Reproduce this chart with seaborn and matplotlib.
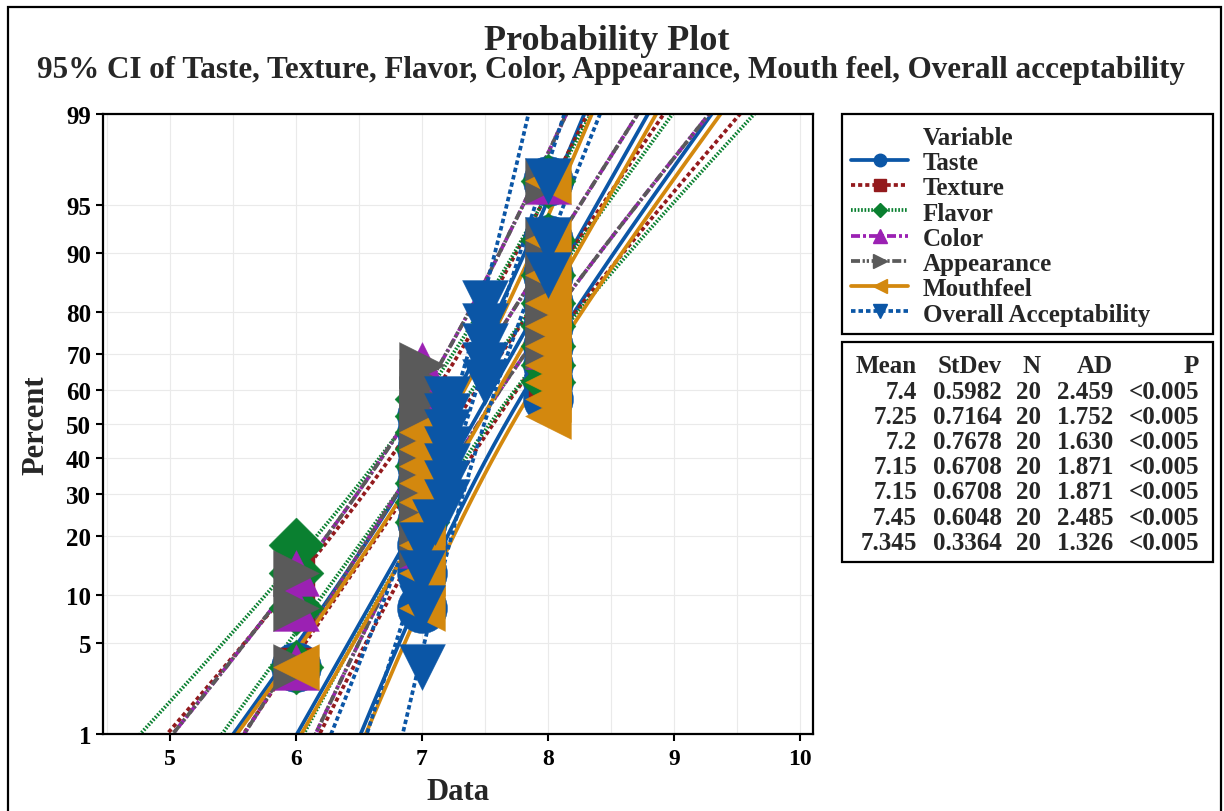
import numpy as np
import matplotlib
matplotlib.use("Agg")
import matplotlib.pyplot as plt
from matplotlib.lines import Line2D
from matplotlib.patches import Rectangle
from matplotlib.ticker import NullLocator
import seaborn as sns
from statistics import NormalDist

# ---- data -------------------------------------------------------------
variables = ["Taste", "Texture", "Flavor", "Color", "Appearance",
             "Mouthfeel", "Overall Acceptability"]

taste = [6, 7, 7, 7, 7, 7, 7, 7, 7, 7, 7, 8, 8, 8, 8, 8, 8, 8, 8, 8]
texture = [6, 6, 6, 7, 7, 7, 7, 7, 7, 7, 7, 7, 8, 8, 8, 8, 8, 8, 8, 8]
flavor = [6, 6, 6, 6, 7, 7, 7, 7, 7, 7, 7, 7, 8, 8, 8, 8, 8, 8, 8, 8]
color = [6, 6, 6, 7, 7, 7, 7, 7, 7, 7, 7, 7, 7, 7, 8, 8, 8, 8, 8, 8]
appearance = [6, 6, 6, 7, 7, 7, 7, 7, 7, 7, 7, 7, 7, 7, 8, 8, 8, 8, 8, 8]
mouthfeel = [6, 7, 7, 7, 7, 7, 7, 7, 7, 7, 8, 8, 8, 8, 8, 8, 8, 8, 8, 8]
overall = [7.0, 7.0, 7.0, 7.0, 7.1, 7.2, 7.2, 7.2, 7.2, 7.2, 7.2, 7.2,
           7.5, 7.5, 7.5, 7.5, 7.5, 8.0, 8.0, 8.0]

means = [7.4, 7.25, 7.2, 7.15, 7.15, 7.45, 7.345]
stdevs = [0.5982, 0.7164, 0.7678, 0.6708, 0.6708, 0.6048, 0.3364]
counts = [20, 20, 20, 20, 20, 20, 20]
ad_stats = ["2.459", "1.752", "1.630", "1.871", "1.871", "2.485", "1.326"]
p_values = ["<0.005", "<0.005", "<0.005", "<0.005", "<0.005", "<0.005", "<0.005"]

y_ticks = [1, 5, 10, 20, 30, 40, 50, 60, 70, 80, 90, 95, 99]
x_ticks = [5, 6, 7, 8, 9, 10]

series = [taste, texture, flavor, color, appearance, mouthfeel, overall]

# ---- styling ----------------------------------------------------------
colors = ["#0B56A6", "#931A1D", "#0A8030", "#9B21B3", "#5A5A5A",
          "#D3880E", "#0B56A6"]
markers = ["o", "s", "D", "^", ">", "<", "v"]
marker_pt = [36.0, 28.0, 28.0, 33.0, 33.0, 33.0, 33.0]
legend_ms = [9.0, 8.0, 7.0, 9.5, 9.5, 9.5, 9.5]
dashes = ["-", (0, (1.1, 0.8)), (0, (0.45, 0.45)), (0, (2.4, 0.8, 0.8, 0.8)),
          (0, (2.4, 0.7, 0.6, 0.5, 0.6, 0.7)), "-", (0, (1.2, 0.8))]
line_w = 2.7

sns.set_theme(style="ticks")
plt.rcParams["font.family"] = ["Liberation Serif", "DejaVu Serif"]
plt.rcParams["font.weight"] = "bold"
plt.rcParams["axes.labelweight"] = "bold"

W, H = 1224, 812


def fx(px):
    return px / W


def fy(py):
    return 1 - py / H


# normal-probability (probit) scale for the percent axis
ND = NormalDist()
_ppf = np.vectorize(lambda q: ND.inv_cdf(q) if 0.0 < q < 1.0 else np.nan,
                    otypes=[float])
_cdf = np.vectorize(lambda z: ND.cdf(z), otypes=[float])


def prob_fwd(p):
    q = np.clip(np.asarray(p, dtype=float) / 100.0, 1e-9, 1 - 1e-9)
    return _ppf(q)


def prob_inv(z):
    return _cdf(np.asarray(z, dtype=float)) * 100.0


fig = plt.figure(figsize=(W / 100, H / 100), dpi=100)
ax = fig.add_axes([fx(103), fy(735), (813 - 103) / W, (735 - 115) / H])
ax.set_yscale("function", functions=(prob_fwd, prob_inv))

# fitted line with 95% confidence band for each variable
zgrid = np.linspace(-2.8, 2.8, 400)
pct_grid = prob_inv(zgrid)
z975 = ND.inv_cdf(0.975)
for m, s, n, c, ls in zip(means, stdevs, counts, colors, dashes):
    fit = m + zgrid * s
    half = z975 * s * np.sqrt((1 + zgrid ** 2 / 2) / n)
    for curve in (fit - half, fit, fit + half):
        sns.lineplot(x=curve, y=pct_grid, sort=False, estimator=None,
                     color=c, linewidth=line_w, linestyle=ls, ax=ax,
                     zorder=2)

# plotted points at median-rank positions
for vals, c, mk, ms in zip(series, colors, markers, marker_pt):
    v = np.sort(np.asarray(vals, dtype=float))
    n = len(v)
    ranks = (np.arange(1, n + 1) - 0.3) / (n + 0.4) * 100
    sns.scatterplot(x=v, y=ranks, marker=mk, s=ms ** 2, color=c,
                    edgecolor=c, linewidth=0.3, ax=ax, zorder=3,
                    legend=False)

ax.set_xlim(4.47, 10.1)
ax.set_ylim(1, 99)
ax.set_yticks(y_ticks)
ax.set_yticklabels([str(t) for t in y_ticks])
ax.yaxis.set_minor_locator(NullLocator())
ax.set_xticks(x_ticks)
ax.set_xticklabels([str(t) for t in x_ticks])
ax.set_xticks(np.arange(4.5, 10.01, 0.5), minor=True)

ax.set_axisbelow(True)
ax.grid(True, which="both", axis="x", color="#EAEAEA", linewidth=0.8)
ax.grid(True, which="major", axis="y", color="#EAEAEA", linewidth=0.8)
for sp in ax.spines.values():
    sp.set_linewidth(1.6)
    sp.set_color("black")
ax.tick_params(axis="y", which="major", labelsize=18, length=5, width=1.5,
               pad=3.5, colors="black")
ax.tick_params(axis="x", which="major", labelsize=17, length=5, width=1.5,
               pad=5, colors="black")
ax.tick_params(which="minor", length=0)

ax.set_xlabel("Data", fontsize=22, fontweight="bold")
ax.set_ylabel("Percent", fontsize=22, fontweight="bold")
ax.xaxis.set_label_coords(0.5, (735 - 793) / 620)
ax.xaxis.label.set_va("center")
ax.yaxis.set_label_coords((36 - 103) / 710, 0.5)
ax.yaxis.label.set_va("center")

# titles
fig.text(fx(607), fy(50), "Probability Plot", fontsize=26,
         fontweight="bold", ha="center", va="baseline")
fig.text(fx(611), fy(78),
         "95% CI of Taste, Texture, Flavor, Color, Appearance, Mouth feel, "
         "Overall acceptability",
         fontsize=22.4, fontweight="bold", ha="center", va="baseline")

# legend panel
row0, pitch = 136.7, 25.23
fig.patches.append(Rectangle((fx(842), fy(335)), (1213 - 842) / W,
                             (335 - 115) / H, transform=fig.transFigure,
                             fill=False, edgecolor="black", linewidth=1.6))
fig.text(fx(923), fy(row0 + 8.3), "Variable", fontsize=18,
         fontweight="bold", ha="left", va="baseline")
for k, (name, c, mk, lms, ls) in enumerate(
        zip(variables, colors, markers, legend_ms, dashes), start=1):
    yc = row0 + k * pitch - 1
    fig.add_artist(Line2D([fx(851), fx(908)], [fy(yc), fy(yc)],
                          transform=fig.transFigure, color=c,
                          linewidth=line_w, linestyle=ls))
    fig.add_artist(Line2D([fx(879.5)], [fy(yc)], transform=fig.transFigure,
                          color=c, marker=mk, markersize=lms,
                          linestyle="none"))
    fig.text(fx(923), fy(row0 + k * pitch + 8.3), name, fontsize=18,
             fontweight="bold", ha="left", va="baseline")

# statistics panel
fig.patches.append(Rectangle((fx(842), fy(563)), (1213 - 842) / W,
                             (563 - 343) / H, transform=fig.transFigure,
                             fill=False, edgecolor="black", linewidth=1.6))
col_right = [917, 1002, 1041, 1113, 1199]
header = ["Mean", "StDev", "N", "AD", "P"]
trow0 = 365
for j, h in enumerate(header):
    fig.text(fx(col_right[j]), fy(trow0 + 8.3), h, fontsize=18,
             fontweight="bold", ha="right", va="baseline")
for k in range(len(variables)):
    cells = [f"{means[k]:g}", f"{stdevs[k]:.4f}", str(counts[k]),
             ad_stats[k], p_values[k]]
    yb = trow0 + (k + 1) * pitch + 8.3
    for j, cell in enumerate(cells):
        fig.text(fx(col_right[j]), fy(yb), cell, fontsize=18,
                 fontweight="bold", ha="right", va="baseline")

# outer frame
fig.patches.append(Rectangle((fx(8), fy(830)), (1221 - 8) / W,
                             (830 - 8) / H, transform=fig.transFigure,
                             fill=False, edgecolor="black", linewidth=1.6))

fig.savefig("out.png", dpi=100)
